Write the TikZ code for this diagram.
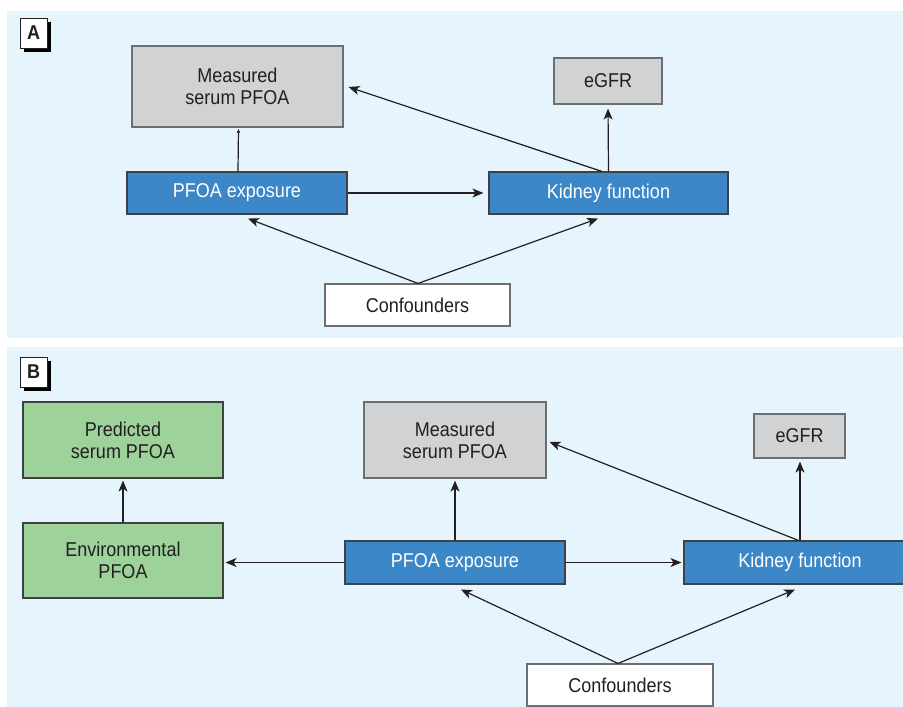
\documentclass[tikz,border=0pt]{standalone}
\usepackage{fontspec}
\setmainfont{Liberation Sans}[FakeStretch=0.9]
\usetikzlibrary{arrows.meta,calc}
\definecolor{panelbg}{HTML}{E6F5FD}
\definecolor{boxblue}{HTML}{3B87C8}
\definecolor{boxgray}{HTML}{D1D2D4}
\definecolor{boxgreen}{HTML}{9DD29B}
\definecolor{inkdark}{HTML}{231F20}
\definecolor{edgegray}{HTML}{6D6E71}
\definecolor{edgedark}{HTML}{414042}
\tikzset{
  basebox/.style={rectangle, inner sep=0pt, line width=1.1pt, align=center,
    font=\fontsize{20}{22}\selectfont, text=inkdark},
  bluebox/.style={basebox, fill=boxblue, draw=edgedark, text=white},
  graybox/.style={basebox, fill=boxgray, draw=edgegray},
  greenbox/.style={basebox, fill=boxgreen, draw=edgedark},
  whitebox/.style={basebox, fill=white, draw=edgegray},
  conn/.style={draw=inkdark, line width=1.2pt, -{Stealth[length=11pt,width=9pt,inset=3pt]}},
  tinyconn/.style={draw=inkdark, line width=1.2pt, -{Stealth[length=4pt,width=3.5pt,inset=1pt]}},
  panellabel/.style={rectangle, fill=white, draw=inkdark, line width=1pt, inner sep=0pt,
    minimum width=27pt, minimum height=30pt, font=\fontsize{20}{20}\selectfont\bfseries, text=inkdark},
}
\begin{document}
\begin{tikzpicture}[x=1pt,y=-1pt]
\useasboundingbox (0,0) rectangle (903,707);
\clip (0,0) rectangle (903,707);
\fill[white] (0,0) rectangle (903,707);
% panels
\fill[panelbg] (7,11) rectangle (910,338);
\fill[panelbg] (7,347) rectangle (910,710);
% panel labels
\fill[black] (23.5,22) rectangle (50.5,52);
\node[panellabel] (labA) at (33.5,33) {A};
\fill[black] (23.5,361) rectangle (50.5,391);
\node[panellabel] (labB) at (33.5,372) {B};

% ---------- Panel A ----------
\node[graybox, minimum width=211pt, minimum height=81pt] (measA) at (237.5,86.5) {Measured\\serum PFOA};
\node[bluebox, minimum width=220pt, minimum height=42pt] (expA) at (237,193) {PFOA exposure};
\node[whitebox, minimum width=185pt, minimum height=42pt] (confA) at (417.5,305) {Confounders};
\node[graybox, minimum width=108pt, minimum height=46pt] (egfrA) at (608,81) {eGFR};
\node[bluebox, minimum width=239pt, minimum height=42pt] (kidA) at (608.5,193) {Kidney function};

\draw[tinyconn, shorten >=1.5pt] ($(expA.north)+(1,0)$) -- ($(measA.south)+(1,0)$);
\draw[conn, shorten >=5pt] (expA.east) -- (kidA.west);
\draw[conn] ($(kidA.north)+(-6.5,0)$) -- ($(measA.east)+(5,0.5)$);
\draw[conn, shorten >=4pt] (kidA.north) -- (egfrA.south);
\coordinate (confAtop) at ($(confA.north)+(0.5,0)$);
\draw[conn] (confAtop) -- ($(expA.south)+(11,4)$);
\draw[conn] (confAtop) -- ($(kidA.south)+(-10.5,4)$);

% ---------- Panel B ----------
\node[greenbox, minimum width=200pt, minimum height=76pt] (predB) at (123,440) {Predicted\\serum PFOA};
\node[greenbox, minimum width=200pt, minimum height=75pt] (envB) at (123,560.5) {Environmental\\PFOA};
\node[graybox, minimum width=182pt, minimum height=76pt] (measB) at (455,440) {Measured\\serum PFOA};
\node[bluebox, minimum width=220pt, minimum height=43pt] (expB) at (455,562.5) {PFOA exposure};
\node[graybox, minimum width=91pt, minimum height=44pt] (egfrB) at (799.5,436) {eGFR};
\node[bluebox, minimum width=232pt, minimum height=43pt] (kidB) at (800,562.5) {Kidney function};
\node[whitebox, minimum width=186pt, minimum height=42pt] (confB) at (620,685) {Confounders};

\draw[conn, shorten >=2pt] (envB.north) -- (predB.south);
\draw[conn, shorten >=2pt] (expB.west) -- (expB.west -| envB.east);
\draw[conn, shorten >=2pt] (expB.north) -- (measB.south);
\draw[conn, shorten >=2pt] (expB.east) -- (kidB.west);
\draw[conn] ($(kidB.north)+(-1.5,0)$) -- ($(measB.east)+(3,2)$);
\draw[conn, shorten >=3pt] ($(kidB.north)+(0,0)$) -- (kidB.north |- egfrB.south);
\coordinate (confBtop) at ($(confB.north)+(-2,0)$);
\draw[conn] (confBtop) -- ($(expB.south)+(6,5)$);
\draw[conn] (confBtop) -- ($(kidB.south)+(-5,5)$);
\end{tikzpicture}
\end{document}
